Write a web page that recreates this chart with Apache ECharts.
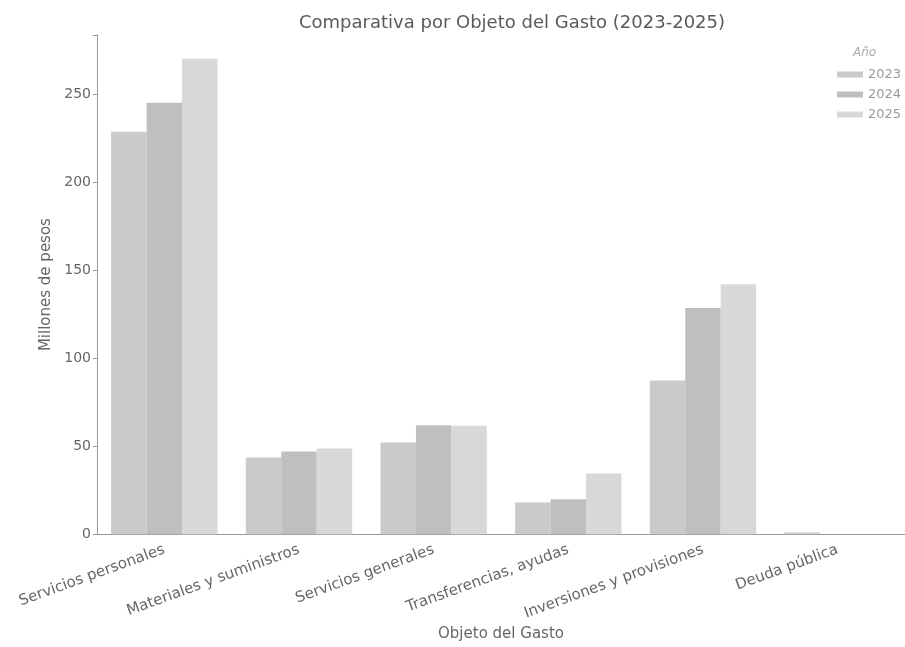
<!DOCTYPE html>
<html>
<head>
<meta charset="utf-8">
<script src="https://cdn.jsdelivr.net/npm/echarts@6/dist/echarts.min.js"></script>
<style>
  html, body { margin: 0; padding: 0; background: #fff; }
  #chart { width: 905px; height: 647px; }
</style>
</head>
<body>
<div id="chart"></div>
<script>
// categorias del eje x
var categorias = ['Servicios personales', 'Materiales y suministros', 'Servicios generales',
  'Transferencias, ayudas', 'Inversiones y provisiones', 'Deuda pública'];
var anios = ['2023', '2024', '2025'];
// millones de pesos
var valores2023 = [228.5, 43.5, 52, 18, 87.3, 1];
var valores2024 = [245, 47, 61.8, 19.8, 128.4, 0];
var valores2025 = [270, 48.7, 61.6, 34.5, 142, 0];
var yTicks = [0, 50, 100, 150, 200, 250];

var colores = ['#cacaca', '#bfbfbf', '#d8d8d8'];
var fuente = 'DejaVu Sans';

var chart = echarts.init(document.getElementById('chart'));

var option = {
  animation: false,
  textStyle: { fontFamily: fuente },
  title: {
    text: 'Comparativa por Objeto del Gasto (2023-2025)',
    left: 507, top: 9, textAlign: 'center',
    textStyle: { fontSize: 18, fontWeight: 'normal', color: '#5a5a5a', fontFamily: fuente }
  },
  legend: {
    data: anios,
    orient: 'vertical',
    left: 832, top: 63,
    itemWidth: 26, itemHeight: 6, itemGap: 7,
    icon: 'rect',
    textStyle: { fontSize: 13, color: '#999', fontFamily: fuente, padding: [0, 0, 0, 0] }
  },
  graphic: [{
    type: 'text', left: 853, top: 47,
    style: { text: 'Año', fontSize: 12, fontStyle: 'italic', fill: '#aaa', fontFamily: fuente }
  }],
  grid: { left: 97, top: 35, width: 817, height: 501 },
  xAxis: {
    type: 'category',
    data: categorias,
    name: 'Objeto del Gasto',
    nameLocation: 'middle',
    nameGap: 92,
    nameTextStyle: { fontSize: 15, color: '#666', fontFamily: fuente },
    axisLine: { lineStyle: { color: '#9a9a9a', width: 1 } },
    axisTick: { alignWithLabel: true, length: 3, lineStyle: { color: '#777' } },
    axisLabel: { rotate: 20, fontSize: 15, color: '#666', margin: 15, interval: 0, fontFamily: fuente }
  },
  yAxis: {
    type: 'value',
    min: 0, max: 283.5, interval: 50,
    name: 'Millones de pesos',
    nameLocation: 'middle',
    nameGap: 40,
    nameTextStyle: { fontSize: 15, color: '#666', fontFamily: fuente },
    axisLine: { show: true, lineStyle: { color: '#9a9a9a' } },
    axisTick: { show: true, length: 4, lineStyle: { color: '#9a9a9a' } },
    splitLine: { show: false },
    axisLabel: {
      fontSize: 14, color: '#666', margin: 6, fontFamily: fuente,
      formatter: function (v) { return yTicks.indexOf(v) >= 0 ? String(v) : ''; }
    }
  },
  series: [
    { name: anios[0], type: 'bar', data: valores2023, barGap: '0%', barCategoryGap: '21%', itemStyle: { color: colores[0] } },
    { name: anios[1], type: 'bar', data: valores2024, barGap: '0%', barCategoryGap: '21%', itemStyle: { color: colores[1] } },
    { name: anios[2], type: 'bar', data: valores2025, barGap: '0%', barCategoryGap: '21%', itemStyle: { color: colores[2] } }
  ]
};

chart.setOption(option);
</script>
</body>
</html>
